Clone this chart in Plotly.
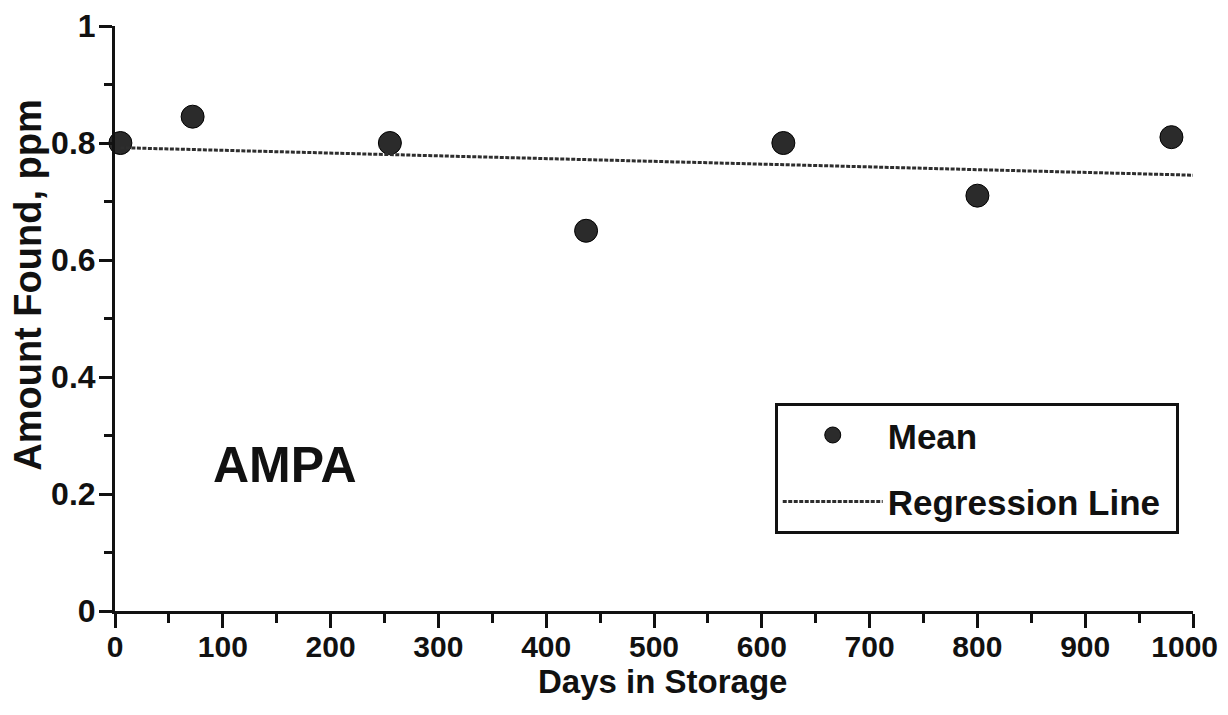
import plotly.graph_objects as go

days = [5, 72, 255, 437, 620, 800, 980]
mean_ppm = [0.80, 0.845, 0.80, 0.65, 0.80, 0.71, 0.81]
reg_days = [5, 1000]
reg_ppm = [0.792, 0.745]

x_ticks = [0, 100, 200, 300, 400, 500, 600, 700, 800, 900, 1000]
y_ticks = [0, 0.2, 0.4, 0.6, 0.8, 1]
y_tick_text = ["0", "0.2", "0.4", "0.6", "0.8", "1"]

FONT = "Liberation Sans, Arial, Helvetica, sans-serif"
INK = "#111111"

x_tick_text = [f"<b>{v}</b>" for v in x_ticks]
x_tick_text[-1] = x_tick_text[-1] + "&nbsp;&nbsp;"  # keep last label inside the page

fig = go.Figure()
fig.add_trace(go.Scatter(
    x=days, y=mean_ppm, mode="markers", name="<b>Mean</b>",
    marker=dict(size=23, color="#2b2b2b", line=dict(width=1, color="#000")),
    cliponaxis=False, legendgroup="a",
))
fig.add_trace(go.Scatter(
    x=reg_days, y=reg_ppm, mode="lines", name="<b>Regression Line</b>&nbsp;",
    line=dict(color="#2e2e2e", width=3, dash="4px,1.5px"),
    cliponaxis=False, legendgroup="b",
))

fig.add_annotation(x=158, y=0.25, xref="x", yref="y", text="<b>AMPA</b>",
                   showarrow=False, font=dict(size=50, color=INK, family=FONT))
# axis titles
fig.add_annotation(x=0.508, xref="paper", y=-0.121, yref="paper", yanchor="middle",
                   text="<b>Days in Storage</b>", showarrow=False,
                   font=dict(size=33, color=INK, family=FONT))
fig.add_annotation(x=-0.0807, xref="paper", xanchor="center", y=0.556, yref="paper",
                   text="<b>Amount Found, ppm</b>", textangle=-90, showarrow=False,
                   font=dict(size=38, color=INK, family=FONT))

fig.update_layout(
    width=1228, height=715,
    margin=dict(l=107, r=43, t=18, b=112),
    paper_bgcolor="white", plot_bgcolor="white",
    font=dict(family=FONT, color=INK),
    showlegend=True,
    legend=dict(
        x=0.612, y=0.356, xanchor="left", yanchor="top",
        bgcolor="white", bordercolor=INK, borderwidth=3,
        font=dict(size=35, family=FONT, color=INK),
        tracegroupgap=18, itemwidth=100,
    ),
    xaxis=dict(
        range=[0, 1000], tickvals=x_ticks, ticktext=x_tick_text,
        showgrid=False, zeroline=False, showline=True, linecolor=INK, linewidth=3,
        ticks="outside", ticklen=14, tickwidth=3, tickcolor=INK,
        tickfont=dict(size=30, family=FONT, color=INK), automargin=False,
        ticklabelstandoff=-7,
        minor=dict(dtick=50, ticks="outside", ticklen=9, tickwidth=3, tickcolor=INK, showgrid=False),
    ),
    yaxis=dict(
        range=[0, 1], tickvals=y_ticks, ticktext=[f"<b>{t}</b>" for t in y_tick_text],
        showgrid=False, zeroline=False, showline=True, linecolor=INK, linewidth=3,
        ticks="outside", ticklen=13, tickwidth=3, tickcolor=INK,
        tickfont=dict(size=32, family=FONT, color=INK), automargin=False,
        ticklabelstandoff=-3,
        minor=dict(dtick=0.1, ticks="outside", ticklen=8, tickwidth=3, tickcolor=INK, showgrid=False),
    ),
)

fig.write_html("out.html")
